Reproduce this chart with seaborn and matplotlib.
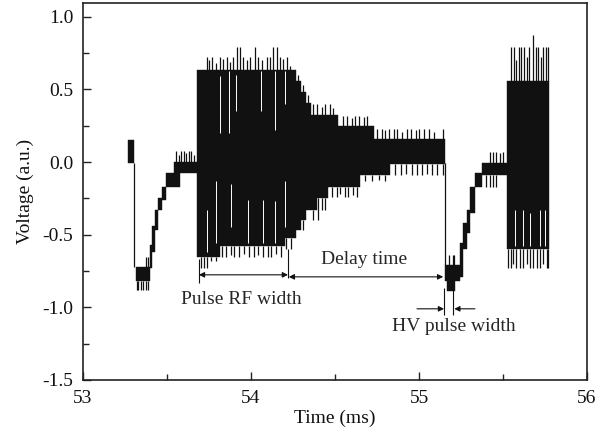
import numpy as np
import matplotlib
matplotlib.use("Agg")
import matplotlib.pyplot as plt
import seaborn as sns

nan = np.nan
# ---- envelope of the oscilloscope trace (step segments: start time, upper, lower) ----
env_t = [53.270, 53.305, 53.315, 53.399, 53.409, 53.429, 53.448, 53.472, 53.492, 53.543,
         53.577, 53.680, 53.815, 54.200, 54.270, 54.300, 54.330, 54.360, 54.390, 54.460,
         54.520, 54.650, 54.730, 54.830, 55.152, 55.155, 55.165, 55.214, 55.244, 55.264,
         55.284, 55.304, 55.333, 55.373, 55.526, 55.774]
env_hi = [0.153, nan, -0.72, -0.57, -0.44, -0.33, -0.25, -0.17, -0.076, 0.0,
          0.0, 0.635, 0.635, 0.635, 0.555, 0.48, 0.41, 0.325, 0.325, 0.325,
          0.245, 0.245, 0.158, 0.158, nan, -0.71, -0.71, -0.71, -0.56, -0.42,
          -0.33, -0.17, -0.075, -0.007, 0.555, 0.555]
env_lo = [-0.007, nan, -0.82, -0.73, -0.62, -0.47, -0.33, -0.26, -0.17, -0.17,
          -0.076, -0.65, -0.58, -0.52, -0.47, -0.40, -0.33, -0.33, -0.25, -0.17,
          -0.17, -0.09, -0.09, -0.01, nan, -0.82, -0.89, -0.82, -0.79, -0.60,
          -0.49, -0.35, -0.17, -0.087, -0.60, -0.60]

# ---- single-sample spikes above the envelope ----
top_spike_t = [53.375, 53.385,
               53.555, 53.57, 53.585, 53.60, 53.615, 53.63, 53.645, 53.66,
               53.74, 53.75, 53.77, 53.79, 53.815, 53.835, 53.855, 53.875, 53.895, 53.915,
               53.935, 53.955, 53.975, 53.994, 54.024, 54.044, 54.063, 54.093, 54.113, 54.133,
               54.153, 54.173, 54.193, 54.212, 54.232,
               54.28, 54.31, 54.34,
               54.37, 54.39, 54.42, 54.44, 54.47, 54.49,
               54.55, 54.57, 54.60, 54.62, 54.64, 54.67, 54.69,
               54.75, 54.78, 54.80, 54.82, 54.85, 54.87, 54.90, 54.93, 54.95, 54.98,
               55.00, 55.03, 55.06, 55.09, 55.14,
               55.18, 55.20, 55.21,
               55.42, 55.44, 55.46, 55.48, 55.50,
               55.55, 55.565, 55.58, 55.595, 55.61, 55.625, 55.64, 55.655, 55.68, 55.695,
               55.71, 55.725, 55.74, 55.755, 55.77]
top_spike_v = [-0.65, -0.65,
               0.073, 0.05, 0.073, 0.073, 0.06, 0.073, 0.073, 0.05,
               0.72, 0.70, 0.72, 0.68, 0.72, 0.71, 0.72, 0.69, 0.72, 0.79,
               0.79, 0.72, 0.70, 0.72, 0.79, 0.72, 0.70, 0.72, 0.72, 0.79,
               0.79, 0.72, 0.71, 0.72, 0.66,
               0.60, 0.53, 0.46,
               0.40, 0.40, 0.38, 0.40, 0.40, 0.37,
               0.32, 0.32, 0.30, 0.32, 0.32, 0.31, 0.32,
               0.23, 0.23, 0.22, 0.23, 0.23, 0.23, 0.21, 0.23, 0.23, 0.22,
               0.23, 0.23, 0.23, 0.21, 0.23,
               -0.64, -0.64, -0.64,
               0.07, 0.07, 0.07, 0.06, 0.07,
               0.79, 0.79, 0.70, 0.79, 0.79, 0.79, 0.72, 0.79, 0.876, 0.79,
               0.79, 0.72, 0.79, 0.79, 0.79]

# ---- single-sample spikes below the envelope ----
bot_spike_t = [53.32, 53.33, 53.345, 53.36, 53.375, 53.385,
               53.70, 53.72, 53.74, 53.76, 53.79,
               53.83, 53.85, 53.88, 53.90, 53.93, 53.96, 53.99, 54.02, 54.04, 54.07,
               54.10, 54.12, 54.15, 54.18, 54.21, 54.24,
               54.31, 54.37, 54.40, 54.42, 54.44,
               54.48, 54.51, 54.53, 54.56, 54.58, 54.61, 54.63,
               54.68, 54.72, 54.76, 54.80,
               54.86, 54.89, 54.92, 54.96, 54.99, 55.02, 55.05, 55.08, 55.11, 55.14,
               55.40, 55.42, 55.44, 55.46,
               55.53, 55.545, 55.56, 55.58, 55.60, 55.62, 55.64, 55.66, 55.68, 55.70,
               55.72, 55.74, 55.76, 55.77]
bot_spike_v = [-0.88, -0.88, -0.88, -0.88, -0.88, -0.88,
               -0.73, -0.73, -0.73, -0.68, -0.68,
               -0.65, -0.65, -0.64, -0.65, -0.65, -0.63, -0.65, -0.65, -0.64, -0.65,
               -0.65, -0.65, -0.63, -0.65, -0.60, -0.60,
               -0.47, -0.40, -0.40, -0.33, -0.33,
               -0.24, -0.24, -0.22, -0.24, -0.24, -0.23, -0.24,
               -0.13, -0.13, -0.12, -0.13,
               -0.09, -0.09, -0.08, -0.09, -0.09, -0.09, -0.08, -0.09, -0.09, -0.09,
               -0.17, -0.17, -0.17, -0.17,
               -0.73, -0.73, -0.70, -0.73, -0.73, -0.73, -0.70, -0.73, -0.73, -0.73,
               -0.73, -0.70, -0.73, -0.73]

# ---- light gaps between oscillation cycles inside the bursts ----
gap_t = [53.815, 53.870, 53.910, 54.060, 54.140, 54.200,
         53.740, 53.790, 53.880, 53.980, 54.070, 54.145, 54.205,
         55.571, 55.619, 55.660, 55.720, 55.750]
gap_top = [0.59, 0.63, 0.60, 0.63, 0.63, 0.63,
           -0.33, -0.13, -0.15, -0.26, -0.26, -0.27, -0.13,
           -0.33, -0.33, -0.35, -0.33, -0.33]
gap_bot = [0.20, 0.20, 0.35, 0.35, 0.22, 0.40,
           -0.62, -0.56, -0.45, -0.56, -0.56, -0.56, -0.45,
           -0.58, -0.58, -0.58, -0.58, -0.58]

# ---- fast HV edges (thin vertical lines) ----
drop_t = [53.306, 55.152]
drop_top = [-0.007, -0.007]
drop_bot = [-0.72, -0.71]

# ---- annotations ----
rf_start, rf_end, hv_end = 53.690, 54.220, 55.149
hv_pulse_end = 55.205
labels = {"rf": "Pulse RF width", "delay": "Delay time", "hv": "HV pulse width"}

# ================= drawing =================
sns.set_theme(style="ticks")
plt.rcParams["font.family"] = ["Liberation Serif", "DejaVu Serif"]
plt.rcParams["axes.unicode_minus"] = False

INK = "#111111"
fig = plt.figure(figsize=(6.09, 4.32), dpi=100)
ax = fig.add_axes([83 / 609, 1 - 380 / 432, 504 / 609, 377 / 432])

t = np.array(env_t)
hi = np.array(env_hi)
lo = np.array(env_lo)

# contiguous runs of valid segments -> one step-filled polygon each
valid = ~np.isnan(hi[:-1])
i = 0
n = len(t) - 1
while i < n:
    if not valid[i]:
        i += 1
        continue
    j = i
    while j < n and valid[j]:
        j += 1
    xs = t[i:j + 1]
    ys_hi = np.append(hi[i:j], hi[j - 1])
    ys_lo = np.append(lo[i:j], lo[j - 1])
    ax.fill_between(xs, ys_lo, ys_hi, step="post", color=INK, lw=0.3, edgecolor=INK)
    i = j

def base_of(tt, v):
    k = np.clip(np.searchsorted(t, tt, side="right") - 1, 0, len(t) - 1)
    return hi[k] if v > hi[k] else lo[k]

for tt, v in zip(top_spike_t, top_spike_v):
    ax.vlines(tt, base_of(tt, v), v, color=INK, lw=0.9)
for tt, v in zip(bot_spike_t, bot_spike_v):
    ax.vlines(tt, v, base_of(tt, v), color=INK, lw=0.9)
ax.vlines(gap_t, gap_bot, gap_top, color="white", lw=0.7)
ax.vlines(drop_t, drop_bot, drop_top, color=INK, lw=0.9)

# annotation marks
ax.vlines([rf_start], -0.83, -0.67, color=INK, lw=0.8)
ax.vlines([rf_end], -0.80, -0.60, color=INK, lw=0.8)
ax.vlines([hv_end, hv_pulse_end], -1.05, -0.87, color=INK, lw=0.8)
ap = dict(arrowstyle="<|-|>", color=INK, lw=0.8, mutation_scale=8,
          shrinkA=0, shrinkB=0)
ax.annotate("", xy=(rf_start, -0.776), xytext=(rf_end, -0.776), arrowprops=ap)
ax.annotate("", xy=(rf_end + 0.005, -0.79), xytext=(hv_end - 0.005, -0.79), arrowprops=ap)
ap1 = dict(arrowstyle="-|>", color=INK, lw=0.8, mutation_scale=8,
           shrinkA=0, shrinkB=0)
ax.annotate("", xy=(hv_end, -1.01), xytext=(54.988, -1.01), arrowprops=ap1)
ax.annotate("", xy=(hv_pulse_end + 0.005, -1.01), xytext=(55.333, -1.01), arrowprops=ap1)

ax.text(53.943, -0.948, labels["rf"], ha="center", va="center", fontsize=14)
ax.text(54.673, -0.672, labels["delay"], ha="center", va="center", fontsize=14)
ax.text(55.208, -1.133, labels["hv"], ha="center", va="center", fontsize=14)

ax.set_xlim(53, 56)
ax.set_ylim(-1.5, 1.095)
ax.set_xticks([53, 54, 55, 56])
ax.set_xticks([53.5, 54.5, 55.5], minor=True)
ax.set_yticks([-1.5, -1.0, -0.5, 0.0, 0.5, 1.0])
ax.set_yticks([-1.25, -0.75, -0.25, 0.25, 0.75], minor=True)
ax.set_yticklabels(["%.1f" % v for v in [-1.5, -1.0, -0.5, 0.0, 0.5, 1.0]])
ax.tick_params(which="both", direction="in", top=False, right=False, color="#222222",
               labelsize=14, labelcolor=INK)
ax.tick_params(which="major", length=6, width=1.0, pad=7)
ax.tick_params(which="minor", length=4, width=1.0)
for s in ax.spines.values():
    s.set_visible(True)
    s.set_linewidth(1.2)
    s.set_color("#222222")
ax.set_xlabel("Time (ms)", fontsize=14, color=INK, labelpad=2)
ax.set_ylabel("Voltage (a.u.)", fontsize=14, color=INK, labelpad=6)

fig.savefig("out.png", dpi=100)
